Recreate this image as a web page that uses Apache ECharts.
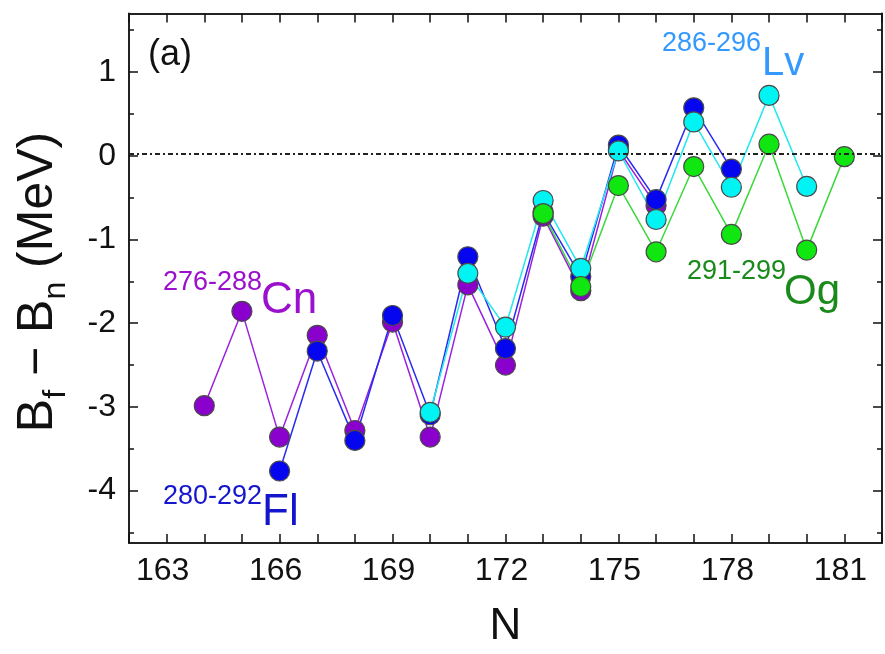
<!DOCTYPE html>
<html>
<head>
<meta charset="utf-8">
<script src="https://cdn.jsdelivr.net/npm/echarts@6/dist/echarts.min.js"></script>
<style>html,body{margin:0;padding:0;background:#fff}#c{width:885px;height:654px}</style>
</head>
<body>
<div id="c"></div>
<script>
// ---- data ----
const nCn = [164,165,166,167,168,169,170,171,172,173,174,175,176];
const cnVals = [-3.04,-1.90,-3.42,-2.19,-3.34,-2.03,-3.42,-1.58,-2.55,-0.75,-1.65,0.05,-0.62];
const nFl = [166,167,168,169,170,171,172,173,174,175,176,177,178];
const flVals = [-3.83,-2.38,-3.46,-1.95,-3.15,-1.24,-2.35,-0.70,-1.48,0.11,-0.55,0.56,-0.18];
const nLv = [170,171,172,173,174,175,176,177,178,179,180];
const lvVals = [-3.12,-1.44,-2.09,-0.56,-1.38,0.04,-0.79,0.39,-0.40,0.71,-0.39];
const nOg = [173,174,175,176,177,178,179,180,181];
const ogVals = [-0.72,-1.60,-0.38,-1.18,-0.15,-0.97,0.12,-1.16,-0.03];
const xTickLabels = [163,166,169,172,175,178,181];
const yTickLabels = [-4,-3,-2,-1,0,1];

const FONT = 'Liberation Sans, Arial, Helvetica, sans-serif';
const chart = echarts.init(document.getElementById('c'), null, {renderer:'canvas'});

const L = 129, T = 13.5, W = 753, H = 535.5;
const yMin = -4.7, yMax = 1.7;
const unit = H / (yMax - yMin);

function pairs(xs, ys){ return xs.map((x,i)=>[x, ys[i]]); }
function mkSeries(name, xs, ys, fill, line){
  return {
    name, type:'line', xAxisIndex:0, yAxisIndex:0,
    data: pairs(xs, ys),
    symbol:'circle', symbolSize:20,
    lineStyle:{color:line, width:1.5},
    itemStyle:{color:fill, borderColor:'#4a4a4a', borderWidth:1.2},
    emphasis:{disabled:true}, animation:false
  };
}

const tickStyle = {color:'#111', width:1.5};
const series = [
  mkSeries('Cn', nCn, cnVals, '#8a00cc', '#9a22dd'),
  mkSeries('Fl', nFl, flVals, '#0505f0', '#2a2af0'),
  mkSeries('Lv', nLv, lvVals, '#00f4f4', '#22e8f0'),
  mkSeries('Og', nOg, ogVals, '#10e610', '#3ad83a')
];
series[0].markLine = {
  silent:true, symbol:'none', animation:false,
  label:{show:false},
  lineStyle:{color:'#222', width:2, type:[5,3,2,3]},
  data:[{yAxis:0}]
};

const frameLine = {show:true, onZero:false, lineStyle:{color:'#222', width:2}};

const option = {
  backgroundColor:'#fff',
  animation:false,
  grid:[
    {left:L, top:T, width:W, height:H},
    {left:L, top:T + 0.2*unit, width:W, height:6*unit},
    {left:L, top:T + 0.7*unit, width:W, height:5*unit}
  ],
  xAxis:[
    {type:'value', gridIndex:0, position:'bottom', min:162, max:182, interval:1,
     axisLine:frameLine,
     axisTick:{show:true, inside:true, length:9, lineStyle:tickStyle},
     splitLine:{show:false},
     axisLabel:{show:true, margin:12, fontSize:32, color:'#111', fontFamily:FONT, padding:[0,8,0,0],
       formatter:v => xTickLabels.indexOf(v) >= 0 ? String(v) : ''},
     name:'N', nameLocation:'middle', nameGap:62,
     nameTextStyle:{fontSize:44, color:'#111', fontFamily:FONT}},
    {type:'value', gridIndex:0, position:'top', min:162, max:182, interval:1,
     axisLine:frameLine,
     axisTick:{show:true, inside:true, length:9, lineStyle:tickStyle},
     splitLine:{show:false}, axisLabel:{show:false}},
    {type:'value', gridIndex:1, min:162, max:182, show:false},
    {type:'value', gridIndex:2, min:162, max:182, show:false}
  ],
  yAxis:[
    {type:'value', gridIndex:0, position:'left', min:yMin, max:yMax,
     axisLine:frameLine,
     axisTick:{show:false}, axisLabel:{show:false}, splitLine:{show:false}},
    {type:'value', gridIndex:0, position:'right', min:yMin, max:yMax,
     axisLine:frameLine,
     axisTick:{show:false}, axisLabel:{show:false}, splitLine:{show:false}},
    {type:'value', gridIndex:1, position:'left', min:-4.5, max:1.5, interval:0.5,
     axisLine:{show:false, onZero:false}, axisTick:{show:true, inside:true, length:5, lineStyle:tickStyle},
     axisLabel:{show:false}, splitLine:{show:false}},
    {type:'value', gridIndex:1, position:'right', min:-4.5, max:1.5, interval:0.5,
     axisLine:{show:false, onZero:false}, axisTick:{show:true, inside:true, length:5, lineStyle:tickStyle},
     axisLabel:{show:false}, splitLine:{show:false}},
    {type:'value', gridIndex:2, position:'left', min:-4, max:1, interval:1,
     axisLine:{show:false, onZero:false}, axisTick:{show:true, inside:true, length:9, lineStyle:tickStyle},
     axisLabel:{show:true, margin:13, fontSize:32, color:'#111', fontFamily:FONT,
       formatter:v => yTickLabels.indexOf(v) >= 0 ? String(v) : ''},
     splitLine:{show:false}},
    {type:'value', gridIndex:2, position:'right', min:-4, max:1, interval:1,
     axisLine:{show:false, onZero:false}, axisTick:{show:true, inside:true, length:9, lineStyle:tickStyle},
     axisLabel:{show:false}, splitLine:{show:false}}
  ],
  series,
  graphic:[
    {type:'text', x:148, y:55, style:{text:'(a)', fontSize:36, fontFamily:FONT, fill:'#111', align:'left', verticalAlign:'middle'}},
    {type:'text', x:163, y:283, style:{text:'276-288', fontSize:27, fontFamily:FONT, fill:'#9a10cc', align:'left', verticalAlign:'middle'}},
    {type:'text', x:261, y:301, style:{text:'Cn', fontSize:44, fontFamily:FONT, fill:'#9a10cc', align:'left', verticalAlign:'middle'}},
    {type:'text', x:163, y:497, style:{text:'280-292', fontSize:27, fontFamily:FONT, fill:'#1515cc', align:'left', verticalAlign:'middle'}},
    {type:'text', x:262, y:513, style:{text:'Fl', fontSize:44, fontFamily:FONT, fill:'#1515cc', align:'left', verticalAlign:'middle'}},
    {type:'text', x:662, y:44, style:{text:'286-296', fontSize:27, fontFamily:FONT, fill:'#3399ff', align:'left', verticalAlign:'middle'}},
    {type:'text', x:762, y:64, style:{text:'Lv', fontSize:40, fontFamily:FONT, fill:'#3399ff', align:'left', verticalAlign:'middle'}},
    {type:'text', x:687, y:272, style:{text:'291-299', fontSize:27, fontFamily:FONT, fill:'#1a8a1a', align:'left', verticalAlign:'middle'}},
    {type:'text', x:784, y:292, style:{text:'Og', fontSize:42, fontFamily:FONT, fill:'#1a8a1a', align:'left', verticalAlign:'middle'}},
    {type:'text', x:38, y:282, rotation:Math.PI/2,
     style:{text:'{b|B}{s|f}{b| \u2212 B}{s|n}{b| (MeV)}', align:'center', verticalAlign:'middle', fill:'#111',
       rich:{
         b:{fontSize:50, fontFamily:FONT, fill:'#111', lineHeight:50, verticalAlign:'top'},
         s:{fontSize:32, fontFamily:FONT, fill:'#111', lineHeight:32, verticalAlign:'top', padding:[27,0,0,0]}
       }}}
  ]
};
chart.setOption(option);
</script>
</body>
</html>
